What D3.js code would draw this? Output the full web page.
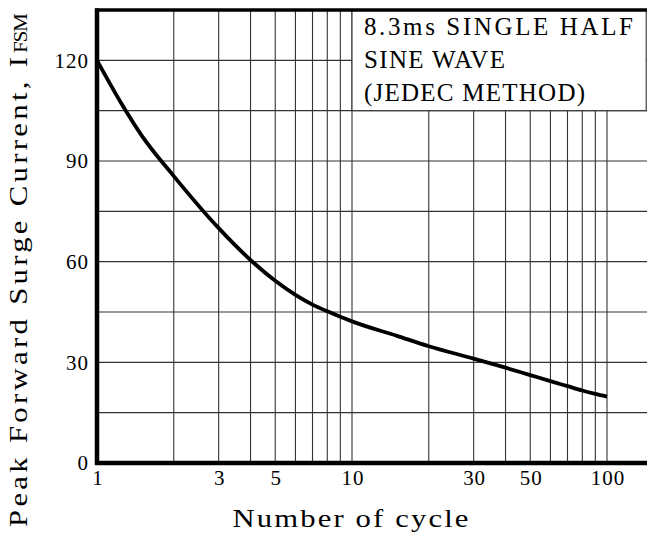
<!DOCTYPE html>
<html>
<head>
<meta charset="utf-8">
<script src="https://cdn.jsdelivr.net/npm/d3@7"></script>
<style>
  html, body { margin: 0; padding: 0; background: #fff; }
  svg { display: block; }
  text { font-family: "Liberation Serif", "DejaVu Serif", serif; fill: #000; }
</style>
</head>
<body>
<svg id="chart" width="647" height="533"></svg>
<script>
// ---- data ----
const cycles  = [1, 1.25, 1.5, 2, 3, 4, 5, 6, 7, 8, 9, 10, 15, 20, 30, 40, 50, 60, 70, 80, 90, 100];
const current = [120, 107, 97.5, 85.5, 70, 60.5, 54.3, 50.1, 47.2, 45.2, 43.6, 42.2, 37.9, 34.8, 31.1, 28.4, 26.2, 24.4, 22.9, 21.6, 20.6, 19.8];

const xDomain = [1, 143.5];
const yDomain = [0, 135];
const xTickLabels = [1, 3, 5, 10, 30, 50, 100];
const yTickLabels = [0, 30, 60, 90, 120];
const xGridValues = [2, 3, 4, 5, 6, 7, 8, 9, 10, 20, 30, 40, 50, 60, 70, 80, 90, 100];
const yGridValues = [15, 30, 45, 60, 75, 90, 105, 120];
const legendLines = ["8.3ms SINGLE HALF", "SINE WAVE", "(JEDEC METHOD)"];
const legendFrom = { x: 10, y: 105 };
const xTitle = "Number of cycle";
const yTitleMain = "Peak Forward Surge Current, I";
const yTitleSub = "FSM";

// ---- layout ----
const pLeft = 97, pRight = 647, pTop = 10, pBottom = 463;
const stretch = 1.18;
const svg = d3.select("#chart");

const x = d3.scaleLog().domain(xDomain).range([pLeft, pRight]);
const y = d3.scaleLinear().domain(yDomain).range([pBottom, pTop]);

// grid
const grid = svg.append("g");
grid.selectAll("line.v").data(xGridValues).join("line")
  .attr("class", "v")
  .attr("x1", d => x(d)).attr("x2", d => x(d))
  .attr("y1", pTop).attr("y2", pBottom)
  .attr("stroke", "#333").attr("stroke-width", 1.1);
grid.selectAll("line.h").data(yGridValues).join("line")
  .attr("class", "h")
  .attr("x1", pLeft).attr("x2", pRight)
  .attr("y1", d => y(d)).attr("y2", d => y(d))
  .attr("stroke", "#333").attr("stroke-width", 1.1);

// legend box (covers the grid)
const bx = x(legendFrom.x), by = y(legendFrom.y);
svg.append("rect")
  .attr("x", bx).attr("y", pTop)
  .attr("width", pRight - bx - 0.8).attr("height", by - pTop)
  .attr("fill", "#fff").attr("stroke", "#333").attr("stroke-width", 1.1);

const pitch = 16;
svg.append("g").selectAll("text").data(legendLines).join("text")
  .attr("x", bx + 12)
  .attr("y", (d, i) => 35 + i * 33)
  .attr("font-size", 25)
  .attr("textLength", d => d.length * pitch - 3)
  .attr("lengthAdjust", "spacing")
  .text(d => d);

// curve
const line = d3.line()
  .x((d, i) => x(cycles[i]))
  .y(d => y(d))
  .curve(d3.curveMonotoneX);
svg.append("path")
  .datum(current)
  .attr("d", line)
  .attr("fill", "none")
  .attr("stroke", "#000")
  .attr("stroke-width", 3.8)
  .attr("stroke-linejoin", "round");

// frame
svg.append("line").attr("x1", pLeft).attr("x2", pLeft).attr("y1", pTop - 1.5).attr("y2", pBottom + 2)
  .attr("stroke", "#000").attr("stroke-width", 4.5);
svg.append("line").attr("x1", pLeft - 2).attr("x2", pRight).attr("y1", pBottom).attr("y2", pBottom)
  .attr("stroke", "#000").attr("stroke-width", 4.5);
svg.append("line").attr("x1", pLeft - 2).attr("x2", pRight).attr("y1", pTop).attr("y2", pTop)
  .attr("stroke", "#000").attr("stroke-width", 3.5);

// y tick labels via axis
const yAxis = d3.axisLeft(y).tickValues(yTickLabels).tickSize(0).tickPadding(0).tickFormat(d3.format("d"));
const yg = svg.append("g").attr("transform", `translate(${pLeft - 9},0)`).call(yAxis);
yg.select(".domain").remove();
yg.selectAll("text")
  .attr("font-size", 21)
  .attr("dy", "0.33em")
  .attr("textLength", function() { return this.textContent.length * 11.7 - 1.5; })
  .attr("lengthAdjust", "spacing");

// x tick labels via axis
const xAxis = d3.axisBottom(x).tickValues(xTickLabels).tickSize(0).tickPadding(0).tickFormat(d3.format("d"));
const xg = svg.append("g").attr("transform", `translate(0,${pBottom})`).call(xAxis);
xg.select(".domain").remove();
xg.selectAll("text")
  .attr("font-size", 21)
  .attr("dy", 0)
  .attr("y", 22)
  .attr("textLength", function() { return this.textContent.length * 11.7 - 1.5; })
  .attr("lengthAdjust", "spacing");

// x title
svg.append("text")
  .attr("transform", `translate(350.5,527) scale(${stretch},1)`)
  .attr("text-anchor", "middle")
  .attr("font-size", 26)
  .attr("textLength", (xTitle.length * 16 - 4) / stretch)
  .attr("lengthAdjust", "spacing")
  .text(xTitle);

// y title
const yt = svg.append("g").attr("transform", `translate(27,527) rotate(-90) scale(${stretch},1)`);
yt.append("text")
  .attr("x", 0).attr("y", 0)
  .attr("font-size", 26)
  .attr("textLength", 470 / stretch)
  .attr("lengthAdjust", "spacing")
  .text(yTitleMain);
yt.append("text")
  .attr("x", 474 / stretch).attr("y", 0)
  .attr("font-size", 18)
  .attr("textLength", 40 / stretch)
  .attr("lengthAdjust", "spacing")
  .text(yTitleSub);
</script>
</body>
</html>
